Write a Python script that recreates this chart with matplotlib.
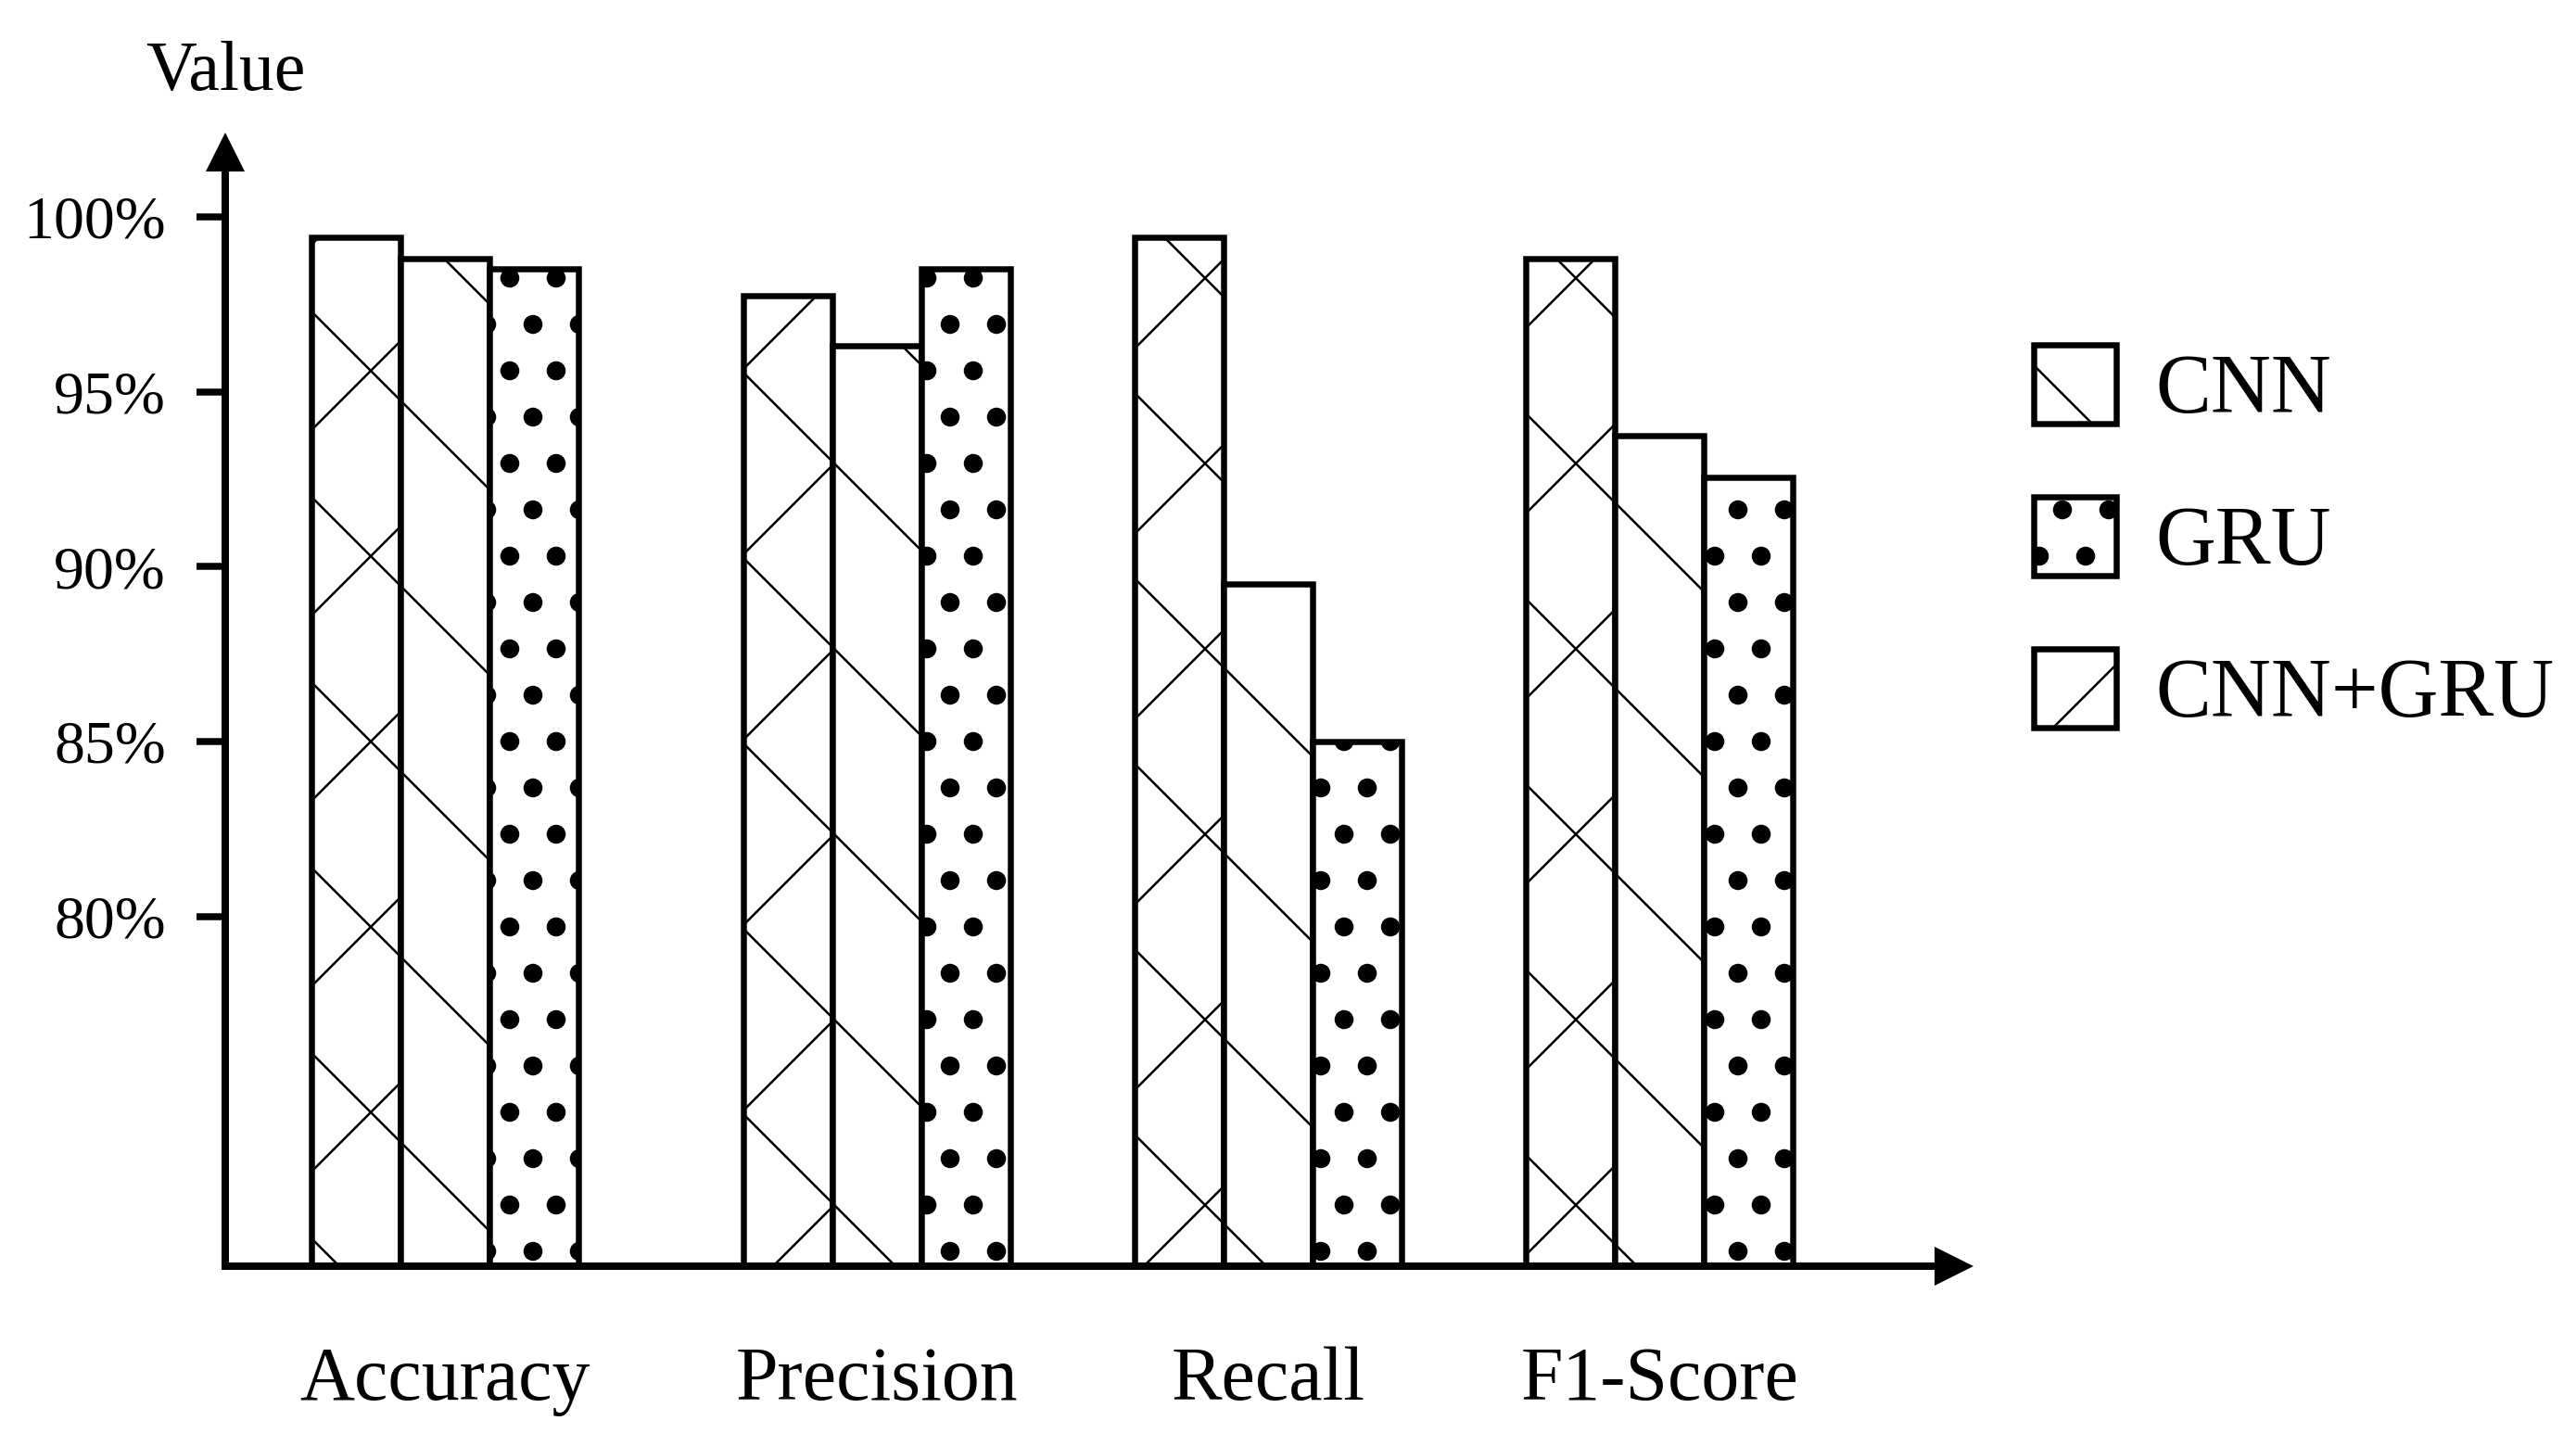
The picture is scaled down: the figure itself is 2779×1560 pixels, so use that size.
import numpy as np
import matplotlib
matplotlib.use('Agg')
import matplotlib.pyplot as plt
import matplotlib.hatch as mhatch

# data
categories = ['Accuracy', 'Precision', 'Recall', 'F1-Score']
models = ['CNN', 'GRU', 'CNN+GRU']
cnn = [98.8, 96.3, 89.5, 93.75]
gru = [98.5, 98.5, 85.0, 92.55]
cnn_gru = [99.4, 97.75, 99.4, 98.8]
yticks = [80, 85, 90, 95, 100]
ytick_labels = ['80%', '85%', '90%', '95%', '100%']

# high dpi so the hatch cell (1 inch) gets as coarse as in the reference
DPI = 1200
W, H = 2779, 1560


def px(v):
    # pixels -> points at this dpi
    return v * 72 / DPI


mhatch.SmallFilledCircles.size = 0.18
plt.rcParams['font.family'] = ['Liberation Serif', 'DejaVu Serif']
plt.rcParams['hatch.color'] = 'black'
plt.rcParams['hatch.linewidth'] = px(2.5)

fig = plt.figure(figsize=((W + 0.2) / DPI, (H + 0.2) / DPI), dpi=DPI)
ax = fig.add_axes([243 / W, 1 - 1366 / H, (2108 - 243) / W, (1366 - 164) / H])

group_pos = np.array([0, 4.85, 9.25, 13.65])
base = 70
edge = dict(edgecolor='black', linewidth=px(6.5), facecolor='white')

b_cg = ax.bar(group_pos - 1, np.array(cnn_gru) - base, width=1, bottom=base,
              hatch='xx', label=models[2], **edge)
b_cnn = ax.bar(group_pos, np.array(cnn) - base, width=1, bottom=base,
               hatch='\\\\', label=models[0], **edge)
b_gru = ax.bar(group_pos + 1, np.array(gru) - base, width=1, bottom=base,
               hatch='....', label=models[1], **edge)

ax.set_xlim(-2.47, 16.96)
ax.set_ylim(base, 101.855)

for s in ['top', 'right']:
    ax.spines[s].set_visible(False)
for s in ['left', 'bottom']:
    ax.spines[s].set_linewidth(px(8))
    ax.spines[s].set_zorder(3)

# arrow heads
ax.plot([0], [1], marker='^', ms=px(42), mew=0, color='black',
        transform=ax.transAxes, clip_on=False, zorder=4)
ax.plot([1], [0], marker='>', ms=px(42), mew=0, color='black',
        transform=ax.transAxes, clip_on=False, zorder=4)

ax.set_xticks([])
ax.set_yticks(yticks, ytick_labels)
ax.tick_params(axis='y', direction='out', length=px(31), width=px(7.5),
               pad=px(33), labelsize=px(66))

for xp, cat in zip(group_pos, categories):
    ax.text(xp, -(1510 - 1366) / (1366 - 164), cat, transform=ax.get_xaxis_transform(),
            ha='center', va='baseline', fontsize=px(82))

fig.text(243 / W, 1 - 97 / H, 'Value', ha='center', va='baseline', fontsize=px(76))

ax.legend(handles=[b_cnn, b_gru, b_cg], loc='upper left',
          bbox_to_anchor=(2194 / W, 1 - 372 / H), bbox_transform=fig.transFigure,
          frameon=False, fontsize=px(90), borderpad=0, borderaxespad=0,
          handlelength=0.99, handleheight=1.075, handletextpad=0.47,
          labelspacing=0.80)

fig.savefig('out.png', dpi=DPI)
